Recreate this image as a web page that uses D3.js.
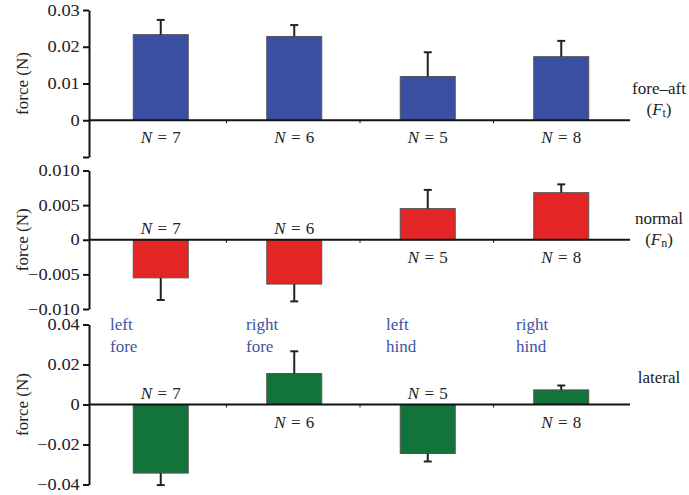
<!DOCTYPE html>
<html>
<head>
<meta charset="utf-8">
<script src="https://cdn.jsdelivr.net/npm/d3@7"></script>
<style>
  body { margin: 0; background: #fff; }
  text { font-family: "Liberation Serif", "Times New Roman", serif; }
</style>
</head>
<body>
<svg id="chart" width="689" height="495"></svg>
<script>
// legs and sample sizes
const legs = ['left fore', 'right fore', 'left hind', 'right hind'];
const nCounts = [7, 6, 5, 8];

// mean forces (N) and error bars
const foreAft = [0.0233, 0.0228, 0.0119, 0.0173];
const foreAftErr = [0.0040, 0.0031, 0.0066, 0.0043];
const normal = [-0.0055, -0.0064, 0.0045, 0.0068];
const normalErr = [0.0032, 0.0025, 0.0027, 0.0012];
const lateral = [-0.0343, 0.0155, -0.0245, 0.0073];
const lateralErr = [0.0060, 0.0111, 0.0040, 0.0022];

// axis ticks
const foreAftTicks = [-0.01, 0, 0.01, 0.02, 0.03];
const normalTicks = [-0.010, -0.005, 0, 0.005, 0.010];
const lateralTicks = [-0.04, -0.02, 0, 0.02, 0.04];

const svg = d3.select('#chart');
const axisX = 89;

const xScale = d3.scaleBand()
    .domain(legs)
    .range([93, 627]);

const barWidth = 55;

const panels = [
    {values: foreAft, errs: foreAftErr, ticks: foreAftTicks, domain: [-0.01, 0.03], range: [157, 10],
     fill: '#3a4ea2', fmt: (d) => d === 0 ? '0' : d3.format('.2f')(d), hideTicks: [-0.01],
     label: ['fore–aft', 'F', 't'], labelY: 88},
    {values: normal, errs: normalErr, ticks: normalTicks, domain: [-0.01, 0.01], range: [309, 170.5],
     fill: '#e32526', fmt: (d) => d === 0 ? '0' : d3.format('.3f')(d).replace('-', '−'), hideTicks: [],
     label: ['normal', 'F', 'n'], labelY: 218},
    {values: lateral, errs: lateralErr, ticks: lateralTicks, domain: [-0.04, 0.04], range: [484.5, 324.5],
     fill: '#12733b', fmt: (d) => d === 0 ? '0' : d3.format('.2f')(d).replace('-', '−'), hideTicks: [],
     label: ['lateral'], labelY: 377}
];

panels.forEach((p) => {
    const y = d3.scaleLinear().domain(p.domain).range(p.range);
    const g = svg.append('g');

    // y axis
    const yAxis = d3.axisLeft(y)
        .tickValues(p.ticks)
        .tickSize(6)
        .tickSizeOuter(0)
        .tickFormat((d) => p.hideTicks.includes(d) ? '' : p.fmt(d));
    const ax = g.append('g')
        .attr('transform', `translate(${axisX}, 0)`)
        .call(yAxis);
    ax.select('.domain').attr('stroke', '#111').attr('stroke-width', 2);
    ax.selectAll('.tick line').attr('stroke', '#111').attr('stroke-width', 2);
    // labels are a little wider than tall in the original
    ax.selectAll('.tick text')
        .attr('x', -8)
        .attr('transform', 'scale(1.15, 1)')
        .attr('font-size', 16)
        .attr('fill', '#222');

    // axis title
    const mid = (p.range[0] + p.range[1]) / 2;
    g.append('text')
        .attr('transform', `translate(22, ${mid}) rotate(-90)`)
        .attr('text-anchor', 'middle')
        .attr('dominant-baseline', 'central')
        .attr('font-size', 17)
        .attr('fill', '#222')
        .text('force (N)');

    // bars
    g.selectAll('rect.bar')
        .data(p.values)
        .enter()
        .append('rect')
        .attr('class', 'bar')
        .attr('x', (d, i) => xScale(legs[i]) + xScale.bandwidth() / 2 - barWidth / 2 + 1)
        .attr('y', (d) => y(Math.max(d, 0)))
        .attr('width', barWidth)
        .attr('height', (d) => Math.abs(y(d) - y(0)))
        .attr('fill', p.fill)
        .attr('stroke', '#555')
        .attr('stroke-width', 1);

    // error bars (outward only)
    p.values.forEach((d, i) => {
        const cx = xScale(legs[i]) + xScale.bandwidth() / 2 + 1;
        const tip = d >= 0 ? d + p.errs[i] : d - p.errs[i];
        g.append('line')
            .attr('x1', cx).attr('x2', cx)
            .attr('y1', y(d)).attr('y2', y(tip))
            .attr('stroke', '#222').attr('stroke-width', 2);
        g.append('line')
            .attr('x1', cx - 4).attr('x2', cx + 4)
            .attr('y1', y(tip)).attr('y2', y(tip))
            .attr('stroke', '#222').attr('stroke-width', 2);

        // N labels
        const ly = d >= 0 ? y(0) + 17 : y(0) - 12;
        const t = g.append('text')
            .attr('x', cx)
            .attr('y', ly)
            .attr('text-anchor', 'middle')
            .attr('dominant-baseline', 'central')
            .attr('font-size', 17)
            .attr('word-spacing', 1)
            .attr('fill', '#222');
        t.append('tspan').attr('font-style', 'italic').text('N');
        t.append('tspan').text(' = ' + nCounts[i]);
    });

    // zero line and category separators
    g.append('line')
        .attr('x1', axisX).attr('x2', 630)
        .attr('y1', y(0)).attr('y2', y(0))
        .attr('stroke', '#111').attr('stroke-width', 2);
    legs.slice(1).forEach((leg) => {
        g.append('line')
            .attr('x1', xScale(leg)).attr('x2', xScale(leg))
            .attr('y1', y(0)).attr('y2', y(0) + 3)
            .attr('stroke', '#111').attr('stroke-width', 1);
    });

    // component label on the right
    g.append('text')
        .attr('x', 659)
        .attr('y', p.labelY)
        .attr('text-anchor', 'middle')
        .attr('dominant-baseline', 'central')
        .attr('font-size', 17)
        .attr('fill', '#222')
        .text(p.label[0]);
    if (p.label.length > 1) {
        const sub = g.append('text')
            .attr('x', 659)
            .attr('y', p.labelY + 21)
            .attr('text-anchor', 'middle')
            .attr('dominant-baseline', 'central')
            .attr('font-size', 17)
            .attr('fill', '#222');
        sub.append('tspan').text('(');
        sub.append('tspan').attr('font-style', 'italic').text(p.label[1]);
        sub.append('tspan').attr('font-size', 12).attr('dy', 4).text(p.label[2]);
        sub.append('tspan').attr('dy', -4).text(')');
    }
});

// leg names in the lateral panel
const legLabelX = [110, 246, 386, 516];
legs.forEach((leg, i) => {
    const words = leg.split(' ');
    words.forEach((w, j) => {
        svg.append('text')
            .attr('x', legLabelX[i])
            .attr('y', 324 + j * 22)
            .attr('dominant-baseline', 'central')
            .attr('font-size', 17)
            .attr('fill', '#3d55a3')
            .text(w);
    });
});
</script>
</body>
</html>
